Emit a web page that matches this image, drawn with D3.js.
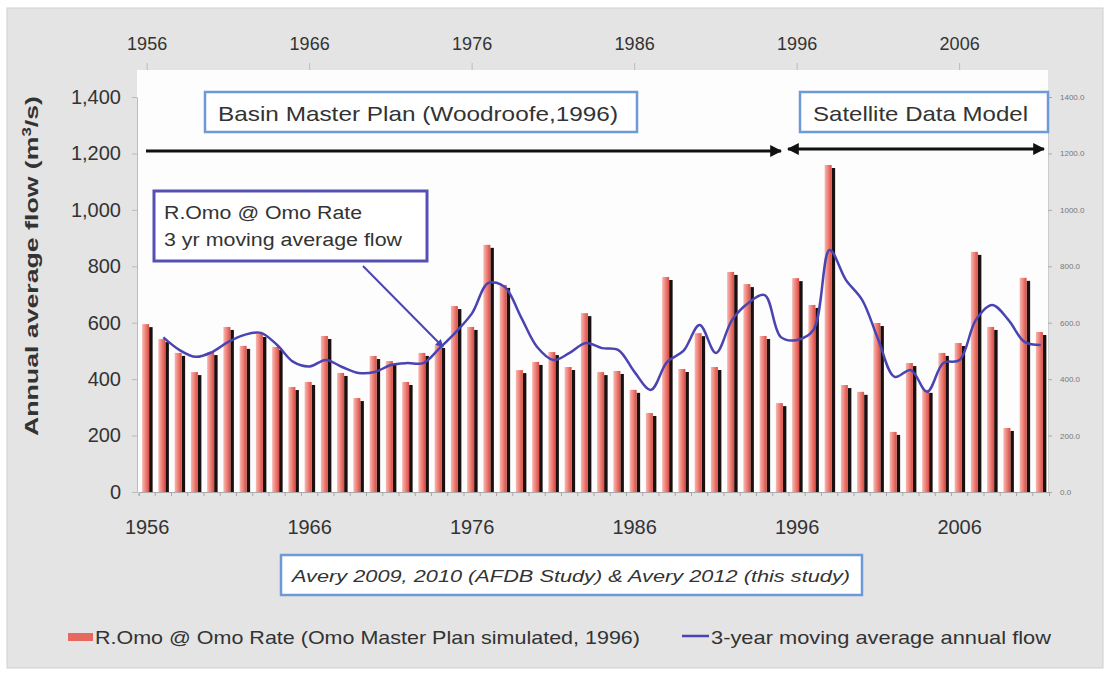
<!DOCTYPE html>
<html><head><meta charset="utf-8">
<script src="https://cdn.jsdelivr.net/npm/d3@7"></script>
<style>body{margin:0;background:#fff;}svg{display:block;font-family:"Liberation Sans",Arial,sans-serif;}</style>
</head><body><svg id="c" width="1112" height="680"></svg>
<script>
const years = d3.range(1956, 2012);
const flow = [595,542,493,425,496,585,518,560,514,372,390,553,422,333,482,464,390,493,521,659,585,876,734,432,461,496,443,634,425,429,362,280,762,436,563,443,780,737,553,315,758,663,1159,379,355,599,213,457,362,493,528,851,585,227,759,567];
const movingAvg = [null,548,503,479,496,532,557,564,521,461,445,468,443,422,425,450,457,457,510,567,634,741,727,621,514,468,493,528,510,503,425,362,461,500,592,493,610,670,698,549,539,574,858,752,681,539,408,432,355,457,468,610,663,610,532,521];
const yTicks = [0,200,400,600,800,1000,1200,1400];
const yTickLabels = ["0","200","400","600","800","1,000","1,200","1,400"];
const rightTickLabels = ["0.0","200.0","400.0","600.0","800.0","1000.0","1200.0","1400.0"];
const labelYears = [1956,1966,1976,1986,1996,2006];
const legendLabels = ["R.Omo @ Omo Rate (Omo Master Plan simulated, 1996)","3-year moving average annual flow"];

const svg = d3.select("#c");
const plot = {left:137, right:1048, top:70, bottom:492};

svg.append("rect").attr("x",7).attr("y",8).attr("width",1096).attr("height",660)
  .attr("fill","#e4e4e4").attr("stroke","#cfcfcf");
svg.append("rect").attr("x",plot.left).attr("y",plot.top).attr("width",plot.right-plot.left).attr("height",plot.bottom-plot.top)
  .attr("fill","#fdfdfe");

const x = d3.scaleBand().domain(years).range([139,1049]).padding(0);
const y = d3.scaleLinear().domain([0,1400]).range([plot.bottom, 97]);
const cx = d => x(d) + x.bandwidth()/2;

const defs = svg.append("defs");
const g = defs.append("linearGradient").attr("id","barGrad").attr("x1","0").attr("x2","1").attr("y1","0").attr("y2","0");
g.append("stop").attr("offset","0%").attr("stop-color","#f6b9b2");
g.append("stop").attr("offset","55%").attr("stop-color","#ec7b72");
g.append("stop").attr("offset","100%").attr("stop-color","#d94b42");
defs.append("marker").attr("id","ah").attr("viewBox","0 0 10 10").attr("refX",9).attr("refY",5)
  .attr("markerWidth",4).attr("markerHeight",4).attr("orient","auto-start-reverse")
  .append("path").attr("d","M0,0L10,5L0,10z").attr("fill","#111");
defs.append("marker").attr("id","ahb").attr("viewBox","0 0 10 10").attr("refX",9).attr("refY",5)
  .attr("markerWidth",4).attr("markerHeight",4).attr("orient","auto")
  .append("path").attr("d","M0,0L10,5L0,10z").attr("fill","#4a44b2");

const bars = svg.append("g");
bars.selectAll("rect.sh").data(years).join("rect").attr("class","sh")
  .attr("x",d=>cx(d)+2).attr("width",3.5)
  .attr("y",(d,i)=>y(flow[i])+3).attr("height",(d,i)=>plot.bottom-y(flow[i])-3)
  .attr("fill","#1a1010");
bars.selectAll("rect.b").data(years).join("rect").attr("class","b")
  .attr("x",d=>cx(d)-5).attr("width",7)
  .attr("y",(d,i)=>y(flow[i])).attr("height",(d,i)=>plot.bottom-y(flow[i]))
  .attr("fill","url(#barGrad)");

const line = d3.line().defined(d=>d[1]!=null).x(d=>cx(d[0])).y(d=>y(d[1])).curve(d3.curveCatmullRom.alpha(0.5));
svg.append("path").datum(years.map((yr,i)=>[yr,movingAvg[i]]))
  .attr("d",line).attr("fill","none").attr("stroke","#4a44b2").attr("stroke-width",2.5);

const yAxis = d3.axisLeft(y).tickValues(yTicks).tickFormat((d,i)=>yTickLabels[i]).tickSize(5);
const ya = svg.append("g").attr("transform",`translate(${plot.left},0)`).call(yAxis);
ya.select(".domain").attr("stroke","#bbb");
ya.selectAll(".tick line").attr("stroke","#bbb");
ya.selectAll("text").attr("font-size",20).attr("fill","#333").attr("x",-16);

const rAxis = d3.axisRight(y).tickValues(yTicks).tickFormat((d,i)=>rightTickLabels[i]).tickSize(4);
const ra = svg.append("g").attr("transform",`translate(${plot.right},0)`).call(rAxis);
ra.select(".domain").attr("stroke","#ccc");
ra.selectAll(".tick line").attr("stroke","#aaa");
ra.selectAll("text").attr("font-size",8).attr("fill","#777").attr("x",12);

const bAxis = d3.axisBottom(x).tickValues(years).tickFormat(d=>labelYears.includes(d)?d:"").tickSize(4);
const ba = svg.append("g").attr("transform",`translate(0,${plot.bottom})`).call(bAxis);
ba.select(".domain").attr("stroke","#aaa");
ba.selectAll(".tick line").attr("stroke","#aaa").attr("transform",`translate(${-x.bandwidth()/2},0)`);
ba.selectAll("text").attr("font-size",20).attr("fill","#333").attr("y",28);

const tAxis = d3.axisTop(x).tickValues(labelYears).tickFormat(d=>d).tickSize(7);
const ta = svg.append("g").attr("transform",`translate(0,${plot.top})`).call(tAxis);
ta.select(".domain").remove();
ta.selectAll(".tick line").attr("stroke","#bbb");
ta.selectAll(".tick text").attr("font-size",18).attr("fill","#333").attr("y",-20);

svg.append("text").attr("transform","translate(38,266) rotate(-90)").attr("text-anchor","middle")
  .attr("font-size",19).attr("font-weight","bold").attr("fill","#333")
  .attr("textLength",340).attr("lengthAdjust","spacingAndGlyphs")
  .html('Annual average flow (m<tspan baseline-shift="super" font-size="12">3</tspan>/s)');

function box(x0,y0,w,h,stroke,sw){
  svg.append("rect").attr("x",x0).attr("y",y0).attr("width",w).attr("height",h)
    .attr("fill","#fff").attr("stroke",stroke).attr("stroke-width",sw);
}
function txt(x0,y0,s,size,len,extra){
  const t = svg.append("text").attr("x",x0).attr("y",y0).attr("font-size",size).attr("fill","#333")
    .attr("textLength",len).attr("lengthAdjust","spacingAndGlyphs").text(s);
  if(extra) extra(t);
  return t;
}
box(205,92,432,40,"#6d9ad6",2.5);
txt(218,121,"Basin Master Plan (Woodroofe,1996)",21,400);
box(800,92,248,40,"#6d9ad6",2.5);
txt(813,121,"Satellite Data Model",21,215);

svg.append("line").attr("x1",146).attr("x2",781).attr("y1",151).attr("y2",151)
  .attr("stroke","#111").attr("stroke-width",3).attr("marker-end","url(#ah)");
svg.append("line").attr("x1",788).attr("x2",1044).attr("y1",149).attr("y2",149)
  .attr("stroke","#111").attr("stroke-width",3).attr("marker-end","url(#ah)").attr("marker-start","url(#ah)");

box(154,191,273,70,"#5650b4",3);
txt(164,219,"R.Omo @ Omo Rate",18,198);
txt(164,246,"3 yr moving average flow",18,238);
svg.append("line").attr("x1",363).attr("y1",266).attr("x2",443).attr("y2",347)
  .attr("stroke","#4a44b2").attr("stroke-width",2).attr("marker-end","url(#ahb)");

box(281,555,581,40,"#6d9ad6",2.5);
txt(292,582,"Avery 2009, 2010 (AFDB Study) & Avery 2012 (this study)",17,558,t=>t.attr("font-style","italic"));

svg.append("rect").attr("x",68).attr("y",633).attr("width",25).attr("height",8).attr("fill","#e8675e");
txt(95,644,legendLabels[0],19,545);
svg.append("line").attr("x1",682).attr("x2",709).attr("y1",636).attr("y2",636).attr("stroke","#4a44b2").attr("stroke-width",2.5);
txt(711,644,legendLabels[1],19,340);
</script></body></html>
